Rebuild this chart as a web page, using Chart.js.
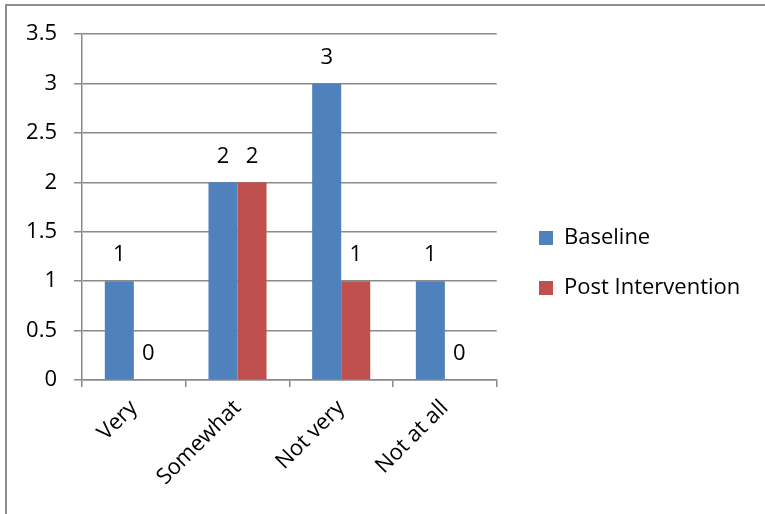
<!DOCTYPE html>
<html><head><meta charset="utf-8">
<script src="https://cdn.jsdelivr.net/npm/chart.js@4"></script>
<style>
html,body{margin:0;padding:0;background:#fff;overflow:hidden;width:765px;height:514px}
#frame{position:absolute;left:5px;top:4px;width:900px;height:700px;border:2px solid #8e8e8e;box-sizing:border-box}
#wrap{position:absolute;left:0;top:0;width:765px;height:514px}
</style></head>
<body><div id="frame"></div><div id="wrap"><canvas id="c"></canvas></div>
<script>
const categories = ['Very', 'Somewhat', 'Not very', 'Not at all'];
const baselineValues = [1, 2, 3, 1];
const postValues = [0, 2, 1, 0];
const seriesNames = ['Baseline', 'Post Intervention'];
const yMin = 0, yMax = 3.5, yStep = 0.5;

const FONT = 'Open Sans';
const FS = 22;
const GRID = '#8a8a8a';

const valueLabels = {
  id: 'valueLabels',
  afterDatasetsDraw(chart) {
    const ctx = chart.ctx;
    ctx.save();
    ctx.font = FS + 'px "' + FONT + '"';
    ctx.fillStyle = '#000';
    ctx.textAlign = 'center';
    ctx.textBaseline = 'middle';
    chart.data.datasets.forEach((ds, i) => {
      const meta = chart.getDatasetMeta(i);
      meta.data.forEach((bar, j) => {
        ctx.fillText(String(ds.data[j]), bar.x, bar.y - 26);
      });
    });
    ctx.restore();
  }
};

const legendPlace = {
  id: 'legendPlace',
  afterLayout(chart) {
    const lg = chart.legend;
    if (!lg) return;
    const dx = 511 - lg.left;
    lg.left += dx; lg.right += dx;
    lg.top -= 11; lg.bottom -= 11;
    if (lg.adjustHitBoxes) lg.adjustHitBoxes();
  }
};

function build() {
  new Chart(document.getElementById('c'), {
    type: 'bar',
    data: {
      labels: categories,
      datasets: [
        { label: seriesNames[0], data: baselineValues, backgroundColor: '#4F81BD' },
        { label: seriesNames[1], data: postValues, backgroundColor: '#C0504D' }
      ]
    },
    options: {
      responsive: true,
      maintainAspectRatio: false,
      animation: false,
      devicePixelRatio: 1,
      categoryPercentage: 0.56,
      barPercentage: 1,
      layout: { padding: { top: 34, right: 29, left: 0, bottom: 0 } },
      plugins: {
        legend: {
          position: 'right',
          align: 'center',
          maxWidth: 300,
          labels: { boxWidth: 14, boxHeight: 14, padding: 28, color: '#000', font: { family: FONT, size: FS } }
        },
        tooltip: { enabled: false }
      },
      scales: {
        x: {
          offset: true,
          grid: { display: true, drawOnChartArea: false, offset: true, color: GRID, lineWidth: 1.5, tickLength: 7 },
          border: { color: GRID, width: 1.5 },
          ticks: { color: '#000', font: { family: FONT, size: FS }, maxRotation: 45, minRotation: 45, padding: 8 },
          afterFit(s) { s.height = 134; }
        },
        y: {
          min: yMin, max: yMax,
          ticks: { stepSize: yStep, color: '#000', font: { family: FONT, size: FS }, padding: 17, callback: v => String(v) },
          grid: { color: GRID, lineWidth: 1.5, tickLength: 8 },
          border: { color: GRID, width: 1.5 },
          afterFit(s) { s.width = 82; }
        }
      }
    },
    plugins: [valueLabels, legendPlace]
  });
}

Promise.all([
  document.fonts.load(FS + 'px "' + FONT + '"'),
  document.fonts.load(FS + 'px "' + FONT + '"', 'Post Intervention 0123.5')
]).then(build, build);
</script>
</body></html>
